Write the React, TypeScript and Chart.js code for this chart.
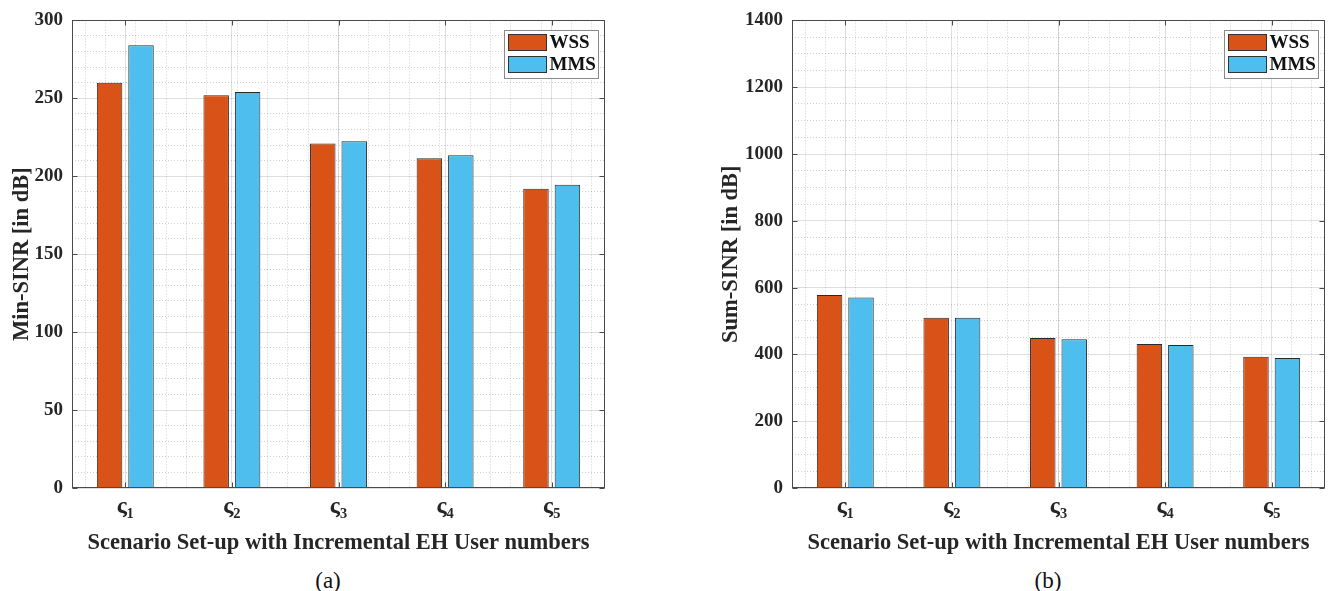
import React, { useEffect, useRef } from 'react';
import { Chart, registerables } from 'chart.js';

Chart.register(...registerables);

// ---------- data ----------
const categories = ['ς₁', 'ς₂', 'ς₃', 'ς₄', 'ς₅'];
const seriesNames = ['WSS', 'MMS'];
const seriesColors = ['#D95319', '#4DBEEE'];

const minSinrWSS = [260, 252, 221, 211.5, 192];
const minSinrMMS = [284, 254, 222.5, 213.5, 194.5];

const sumSinrWSS = [578, 510, 449, 431, 393];
const sumSinrMMS = [570, 510, 445, 428, 389];

const minSinrTicks = [0, 50, 100, 150, 200, 250, 300];
const sumSinrTicks = [0, 200, 400, 600, 800, 1000, 1200, 1400];

const xTitle = 'Scenario Set-up with Incremental EH User numbers';
const captions = ['(a)', '(b)'];

// ---------- styling ----------
const FAMILY = '"Liberation Serif", "Times New Roman", Times, serif';
const TEXT = '#262626';
const MAJOR_GRID = 'rgba(38,38,38,0.15)';
const MINOR_GRID = 'rgba(38,38,38,0.22)';

const framePlugin = {
  id: 'frameBox',
  afterDatasetsDraw(chart: any) {
    const { ctx, chartArea: a, scales } = chart;
    ctx.save();
    ctx.strokeStyle = '#4a4a4a';
    ctx.lineWidth = 1;
    const L = Math.round(a.left) + 0.5;
    const R = Math.round(a.right) - 0.5;
    const T = Math.round(a.top) + 0.5;
    const B = Math.round(a.bottom) - 0.5;
    ctx.strokeRect(L, T, R - L, B - T);
    ctx.beginPath();
    scales.y.ticks.forEach((_t: any, i: number) => {
      const p = Math.round(scales.y.getPixelForTick(i)) + 0.5;
      ctx.moveTo(L, p); ctx.lineTo(L + 5, p);
      ctx.moveTo(R, p); ctx.lineTo(R - 5, p);
    });
    scales.x.ticks.forEach((_t: any, i: number) => {
      const p = Math.round(scales.x.getPixelForTick(i)) + 0.5;
      ctx.moveTo(p, B); ctx.lineTo(p, B - 5);
      ctx.moveTo(p, T); ctx.lineTo(p, T + 5);
    });
    ctx.stroke();
    ctx.restore();
  },
};

const boxLegendPlugin = {
  id: 'boxLegend',
  afterDraw(chart: any) {
    const { ctx, chartArea: a } = chart;
    const w = 94, h = 48;
    const x0 = Math.round(a.right - 7 - w) + 0.5;
    const y0 = Math.round(a.top + 10) + 0.5;
    ctx.save();
    ctx.fillStyle = '#ffffff';
    ctx.fillRect(x0, y0, w, h);
    ctx.strokeStyle = '#8a8a8a';
    ctx.lineWidth = 1;
    ctx.strokeRect(x0, y0, w, h);
    ctx.font = `bold 19px ${FAMILY}`;
    ctx.textBaseline = 'middle';
    ctx.textAlign = 'left';
    chart.data.datasets.forEach((ds: any, i: number) => {
      const sy = y0 + 4 + i * 22;
      ctx.fillStyle = ds.backgroundColor;
      ctx.fillRect(x0 + 4, sy, 38, 16);
      ctx.strokeStyle = '#333333';
      ctx.strokeRect(x0 + 4, sy, 38, 16);
      ctx.fillStyle = '#111111';
      ctx.fillText(ds.label, x0 + 45, sy + 9);
    });
    ctx.restore();
  },
};

function isMultiple(v: number, step: number) {
  return Math.abs(v / step - Math.round(v / step)) < 1e-6;
}

function makeConfig(opts: {
  wss: number[];
  mms: number[];
  yTicks: number[];
  yMinorStep: number;
  yTitle: string;
  yAxisWidth: number;
  yTitlePad: number;
  rightPad: number;
}) {
  const yMin = opts.yTicks[0];
  const yMax = opts.yTicks[opts.yTicks.length - 1];
  const yStep = opts.yTicks[1] - opts.yTicks[0];
  const series = [opts.wss, opts.mms];
  return {
    type: 'bar',
    data: {
      labels: categories,
      datasets: series.map((d, i) => ({
        label: seriesNames[i],
        data: d,
        backgroundColor: seriesColors[i],
        borderColor: '#2a2a2a',
        borderWidth: 1,
        xAxisID: 'x',
        yAxisID: 'y',
        categoryPercentage: 0.59,
        barPercentage: 0.81,
      })),
    },
    options: {
      responsive: false,
      animation: false,
      layout: { padding: { top: 18, right: opts.rightPad, bottom: 0, left: 0 } },
      plugins: {
        legend: { display: false },
        tooltip: { enabled: false },
        title: { display: false },
      },
      scales: {
        x: {
          type: 'category',
          position: 'bottom',
          offset: true,
          grid: { offset: false, color: MAJOR_GRID, drawTicks: false, lineWidth: 1 },
          border: { display: false },
          ticks: {
            font: { family: FAMILY, size: 24, weight: 'bold' },
            color: TEXT,
            padding: 4,
            maxRotation: 0,
            autoSkip: false,
          },
          title: {
            display: true,
            text: xTitle,
            font: { family: FAMILY, size: 22.5, weight: 'bold' },
            color: TEXT,
            padding: { top: 0, bottom: 10 },
          },
          afterFit: (s: any) => { s.height = 79; },
        },
        xMinor: {
          type: 'linear',
          position: 'bottom',
          min: 0.5,
          max: categories.length + 0.5,
          afterBuildTicks: (s: any) => {
            const t: any[] = [];
            for (let k = 3; k <= categories.length * 5 + 2; k++) {
              if (k % 5 !== 0) t.push({ value: k / 5 });
            }
            s.ticks = t;
          },
          grid: { color: MINOR_GRID, drawTicks: false, lineWidth: 1 },
          border: { display: false, dash: [1, 2] },
          ticks: { display: false },
          afterFit: (s: any) => { s.height = 0; },
        },
        y: {
          type: 'linear',
          position: 'left',
          min: yMin,
          max: yMax,
          ticks: {
            stepSize: yStep,
            font: { family: FAMILY, size: 19, weight: 'bold' },
            color: TEXT,
            padding: 9,
            callback: (v: any) => String(v),
          },
          grid: { color: MAJOR_GRID, drawTicks: false, lineWidth: 1 },
          border: { display: false },
          title: {
            display: true,
            text: opts.yTitle,
            font: { family: FAMILY, size: 22.5, weight: 'bold' },
            color: TEXT,
            padding: { top: opts.yTitlePad, bottom: 0 },
          },
          afterFit: (s: any) => { s.width = opts.yAxisWidth; },
        },
        yMinor: {
          type: 'linear',
          position: 'left',
          min: yMin,
          max: yMax,
          ticks: { display: false, stepSize: opts.yMinorStep },
          grid: {
            drawTicks: false,
            lineWidth: 1,
            color: (c: any) =>
              c.tick && isMultiple(c.tick.value, yStep) ? 'rgba(0,0,0,0)' : MINOR_GRID,
          },
          border: { display: false, dash: [1, 2] },
          afterFit: (s: any) => { s.width = 0; },
        },
      },
    },
    plugins: [framePlugin, boxLegendPlugin],
  };
}

function Panel(props: { left: number; width: number; height: number; config: any }) {
  const ref = useRef<HTMLCanvasElement | null>(null);
  useEffect(() => {
    if (!ref.current) return;
    const chart = new Chart(ref.current, props.config);
    return () => chart.destroy();
  }, []);
  return (
    <canvas
      ref={ref}
      width={props.width}
      height={props.height}
      style={{ position: 'absolute', left: props.left, top: 0, width: props.width, height: props.height, display: 'block' }}
    />
  );
}

const leftConfig = makeConfig({
  wss: minSinrWSS,
  mms: minSinrMMS,
  yTicks: minSinrTicks,
  yMinorStep: 10,
  yTitle: 'Min-SINR [in dB]',
  yAxisWidth: 72,
  yTitlePad: 9,
  rightPad: 64,
});

const rightConfig = makeConfig({
  wss: sumSinrWSS,
  mms: sumSinrMMS,
  yTicks: sumSinrTicks,
  yMinorStep: 50,
  yTitle: 'Sum-SINR [in dB]',
  yAxisWidth: 92,
  yTitlePad: 18,
  rightPad: 13,
});

const captionStyle = (cx: number): React.CSSProperties => ({
  position: 'absolute',
  left: cx - 50,
  top: 569,
  width: 100,
  height: 24,
  textAlign: 'center',
  fontFamily: FAMILY,
  fontSize: 23,
  lineHeight: '24px',
  color: '#111',
});

export default function App() {
  return (
    <div style={{ position: 'absolute', left: 0, top: 0, width: 1338, height: 591, background: '#ffffff', overflow: 'hidden' }}>
      <Panel left={0} width={669} height={567} config={leftConfig} />
      <Panel left={700} width={638} height={567} config={rightConfig} />
      <div style={captionStyle(328)}>{captions[0]}</div>
      <div style={captionStyle(1048)}>{captions[1]}</div>
    </div>
  );
}
